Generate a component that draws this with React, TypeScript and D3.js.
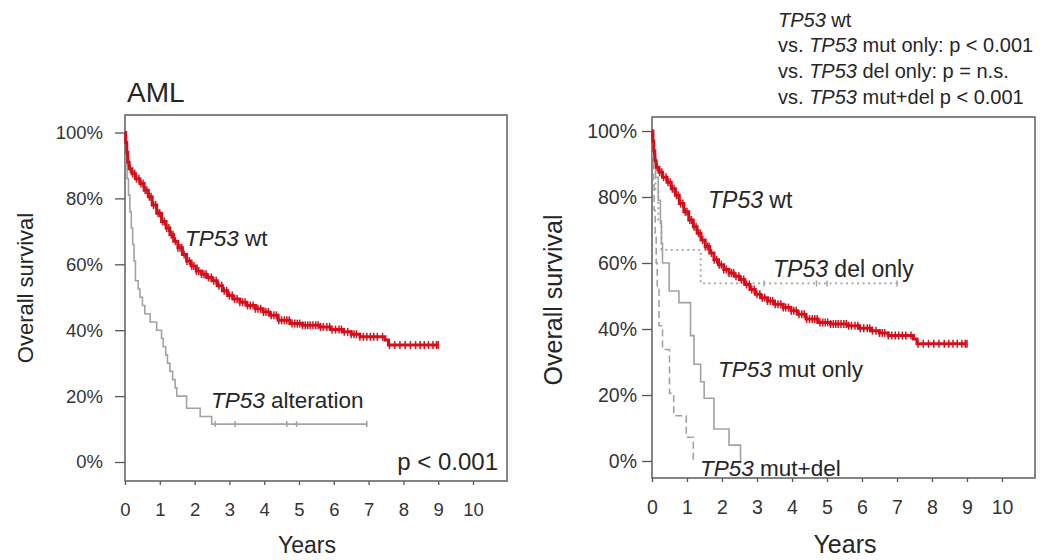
import React, { useEffect, useRef } from "react";
import * as d3 from "d3";

// ---- data (years, survival %) ----
const wtTimes = [0, 0.02, 0.05, 0.08, 0.12, 0.2, 0.3, 0.43, 0.55, 0.67, 0.78, 0.91, 1.05, 1.18, 1.29, 1.4, 1.52, 1.65, 1.77, 1.9, 2.05, 2.2, 2.35, 2.5, 2.65, 2.8, 2.95, 3.1, 3.3, 3.5, 3.75, 3.97, 4.16, 4.4, 4.74, 5.1, 5.6, 5.9, 6.27, 6.5, 6.75, 7.47, 7.57, 9.0];
const wtSurv = [100, 97, 94, 91, 89, 87.5, 86, 84.5, 82.5, 80.5, 78, 75.5, 73, 71, 69, 67, 65, 63, 61, 59.5, 58, 57, 56, 55, 53.5, 52, 50.5, 49.5, 48.5, 47.5, 46.5, 45.5, 44.5, 43, 42, 41.5, 41, 40.2, 39.5, 38.8, 38, 37, 35.5, 35.5];
const wtCensor = [0.05, 0.1, 0.15, 0.22, 0.28, 0.33, 0.4, 0.46, 0.52, 0.58, 0.63, 0.7, 0.75, 0.82, 0.88, 0.95, 1.0, 1.08, 1.13, 1.2, 1.26, 1.33, 1.38, 1.45, 1.52, 1.58, 1.63, 1.7, 1.78, 1.85, 1.92, 1.98, 2.05, 2.12, 2.2, 2.27, 2.33, 2.4, 2.48, 2.55, 2.62, 2.7, 2.78, 2.85, 2.92, 3.0, 3.08, 3.15, 3.22, 3.3, 3.38, 3.45, 3.52, 3.6, 3.68, 3.75, 3.82, 3.9, 3.98, 4.05, 4.12, 4.2, 4.28, 4.35, 4.42, 4.5, 4.58, 4.65, 4.72, 4.8, 4.88, 4.95, 5.02, 5.1, 5.18, 5.25, 5.32, 5.4, 5.48, 5.55, 5.62, 5.7, 5.8, 5.88, 5.95, 6.05, 6.15, 6.22, 6.3, 6.4, 6.5, 6.58, 6.65, 6.75, 6.85, 6.95, 7.05, 7.15, 7.25, 7.4, 7.6, 7.75, 7.9, 8.05, 8.2, 8.35, 8.48, 8.6, 8.72, 8.85, 8.95, 9.0];

const altTimes = [0, 0.02, 0.04, 0.06, 0.1, 0.14, 0.18, 0.22, 0.26, 0.3, 0.38, 0.43, 0.5, 0.57, 0.72, 0.91, 1.05, 1.1, 1.17, 1.22, 1.29, 1.37, 1.44, 1.49, 1.77, 2.16, 2.49, 6.95];
const altSurv = [100, 95, 90, 86, 81, 76, 71, 66, 61, 55, 52.5, 50, 47.5, 45, 42.5, 40, 37.5, 35, 32.5, 30, 27.5, 25, 22.5, 20, 16.3, 13.8, 11.5, 11.5];
const altCensor = [2.59, 3.16, 4.65, 4.93, 6.95];

const mutTimes = [0, 0.05, 0.1, 0.18, 0.24, 0.27, 0.3, 0.49, 0.77, 1.1, 1.2, 1.39, 1.49, 1.77, 2.2, 2.53];
const mutSurv = [100, 93, 86, 79, 72, 66, 60, 51.5, 48, 38, 29.3, 24, 19, 9.7, 4.8, 0];

const delTimes = [0, 0.05, 0.1, 0.18, 0.27, 1.39, 7.0];
const delSurv = [100, 91, 82, 73, 64, 53.8, 53.8];
const delCensor = [3.2, 4.7, 5.0, 7.0];

const bothTimes = [0, 0.02, 0.04, 0.06, 0.09, 0.12, 0.15, 0.2, 0.3, 0.5, 0.62, 0.98, 1.18];
const bothSurv = [100, 92, 84, 76, 68, 60, 52, 41, 33.8, 20.5, 13.7, 7.2, 0];

const yearTicks = [0, 1, 2, 3, 4, 5, 6, 7, 8, 9, 10];
const pctTicks = [0, 20, 40, 60, 80, 100];
const headerLines = [
  ["", "TP53", " wt"],
  ["vs. ", "TP53", " mut only: p < 0.001"],
  ["vs. ", "TP53", " del only: p = n.s."],
  ["vs. ", "TP53", " mut+del p < 0.001"],
];

const FONT = "'Liberation Sans', Arial, Helvetica, sans-serif";
const RED = "#d2101c";
const GRAY = "#a2a2a2";
const INK = "#262626";

type Panel = {
  xr: [number, number];
  yr: [number, number];
  box: { l: number; r: number; t: number; b: number };
  tickFs: number;
  yPad: number;
  ylab: { x: number; y: number; fs: number };
  years: { x: number; fs: number };
};

function survAt(times: number[], surv: number[], t: number) {
  let s = surv[0];
  for (let i = 0; i < times.length; i++) if (times[i] <= t) s = surv[i];
  return s;
}

export default function App() {
  const ref = useRef<SVGSVGElement>(null);

  useEffect(() => {
    const svg = d3.select(ref.current);
    svg.selectAll("*").remove();

    const drawPanel = (p: Panel) => {
      const x = d3.scaleLinear().domain([0, 10]).range(p.xr);
      const y = d3.scaleLinear().domain([0, 100]).range(p.yr);
      const g = svg.append("g");

      const yAxis = g.append("g")
        .attr("transform", `translate(${p.box.l},0)`)
        .call(d3.axisLeft(y).tickValues(pctTicks).tickFormat(d => `${d}%`).tickSize(10).tickPadding(p.yPad));
      const xAxis = g.append("g")
        .attr("transform", `translate(0,${p.box.b})`)
        .call(d3.axisBottom(x).tickValues(yearTicks).tickFormat(d => `${d}`).tickSize(4).tickPadding(18));
      [yAxis, xAxis].forEach(a => {
        a.select(".domain").remove();
        a.selectAll("line").attr("stroke", "#555").attr("stroke-width", 1.3);
        a.selectAll("text").attr("font-family", FONT).attr("font-size", p.tickFs).attr("fill", "#333");
      });

      g.append("rect")
        .attr("x", p.box.l).attr("y", p.box.t)
        .attr("width", p.box.r - p.box.l).attr("height", p.box.b - p.box.t)
        .attr("fill", "none").attr("stroke", "#666").attr("stroke-width", 1.6);

      g.append("text")
        .attr("transform", `translate(${p.ylab.x},${p.ylab.y}) rotate(-90)`)
        .attr("text-anchor", "middle").attr("font-family", FONT)
        .attr("font-size", p.ylab.fs).attr("fill", INK)
        .text("Overall survival");

      g.append("text")
        .attr("x", p.years.x).attr("y", 553)
        .attr("text-anchor", "middle").attr("font-family", FONT)
        .attr("font-size", p.years.fs).attr("fill", INK)
        .text("Years");

      return { g, x, y };
    };

    const curve = (
      ctx: { g: any; x: any; y: any },
      times: number[], surv: number[], censor: number[],
      color: string, width: number, dash: string | null, tick: number
    ) => {
      const line = d3.line<number>()
        .x((_, i) => ctx.x(times[i]))
        .y(d => ctx.y(d))
        .curve(d3.curveStepAfter);
      ctx.g.append("path")
        .attr("d", line(surv))
        .attr("fill", "none").attr("stroke", color)
        .attr("stroke-width", width)
        .attr("stroke-dasharray", dash);
      ctx.g.selectAll(null)
        .data(censor).enter().append("line")
        .attr("x1", (t: number) => ctx.x(t)).attr("x2", (t: number) => ctx.x(t))
        .attr("y1", (t: number) => ctx.y(survAt(times, surv, t)) - tick)
        .attr("y2", (t: number) => ctx.y(survAt(times, surv, t)) + tick)
        .attr("stroke", color).attr("stroke-width", 1.5);
    };

    const label = (
      ctx: { g: any }, xx: number, yy: number, fs: number, parts: string[], anchor = "start"
    ) => {
      const t = ctx.g.append("text")
        .attr("x", xx).attr("y", yy).attr("font-family", FONT)
        .attr("font-size", fs).attr("fill", INK).attr("text-anchor", anchor);
      parts.forEach((s, i) => {
        if (!s) return;
        t.append("tspan").attr("font-style", i === 1 ? "italic" : "normal").text(s);
      });
    };

    // ---- left panel ----
    const L = drawPanel({
      xr: [125, 473], yr: [462, 132.5],
      box: { l: 125, r: 507, t: 115, b: 481 },
      tickFs: 18.5, yPad: 12,
      ylab: { x: 33, y: 288, fs: 22 },
      years: { x: 307, fs: 23 },
    });
    curve(L, altTimes, altSurv, altCensor, GRAY, 1.6, null, 3);
    curve(L, wtTimes, wtSurv, wtCensor, RED, 3, null, 4);
    label(L, 185, 246, 22.5, ["", "TP53", " wt"]);
    label(L, 211, 408, 22.5, ["", "TP53", " alteration"]);
    label(L, 127, 102, 28, ["AML"]);
    label(L, 498, 470, 24, ["p < 0.001"], "end");

    // ---- right panel ----
    const R = drawPanel({
      xr: [652, 1002], yr: [461, 131],
      box: { l: 652, r: 1035, t: 117, b: 478 },
      tickFs: 19.5, yPad: 5,
      ylab: { x: 562, y: 300, fs: 25 },
      years: { x: 845, fs: 25 },
    });
    curve(R, delTimes, delSurv, delCensor, GRAY, 1.8, "2,3.5", 3);
    curve(R, mutTimes, mutSurv, [], GRAY, 1.6, null, 3);
    curve(R, bothTimes, bothSurv, [], GRAY, 1.6, "7,4", 3);
    curve(R, wtTimes, wtSurv, wtCensor, RED, 3, null, 4);
    label(R, 708, 208, 23, ["", "TP53", " wt"]);
    label(R, 773, 277, 23, ["", "TP53", " del only"]);
    label(R, 718, 377, 22.5, ["", "TP53", " mut only"]);
    label(R, 700, 476, 22.5, ["", "TP53", " mut+del"]);
    headerLines.forEach((parts, i) => {
      label(R, 778, 26.5 + i * 25.7, 20, parts);
    });
  }, []);

  return (
    <svg
      ref={ref}
      width={1047}
      height={560}
      style={{ position: "absolute", left: 0, top: 0, background: "#fff" }}
    />
  );
}
